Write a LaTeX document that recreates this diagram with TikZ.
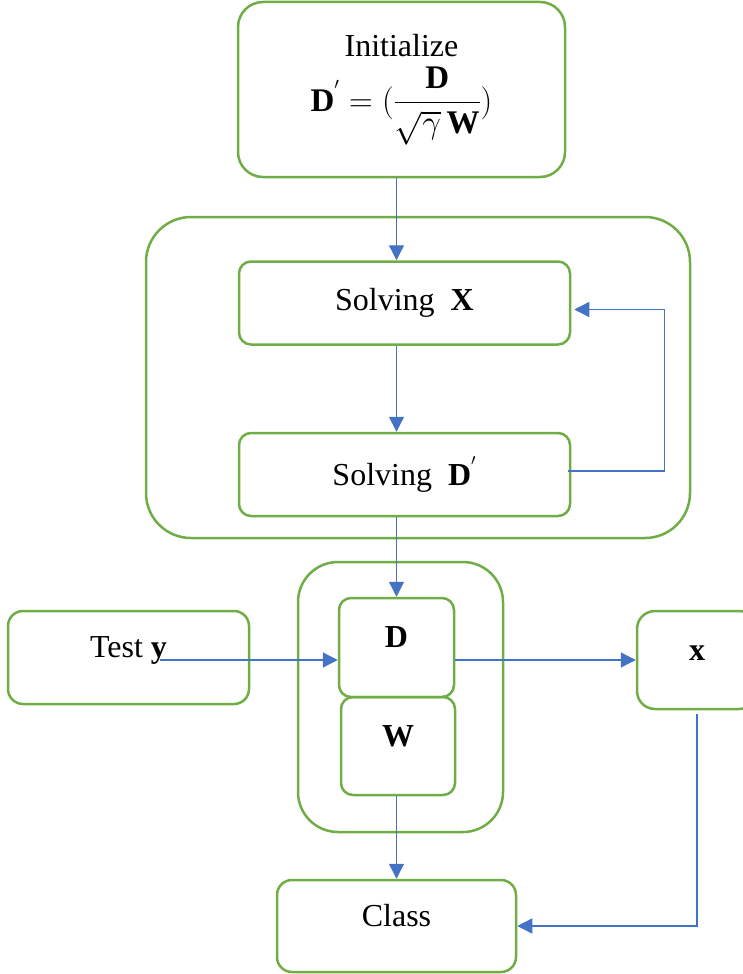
\RequirePackage{fix-cm}
\documentclass[tikz,border=0pt]{standalone}
\usepackage{amsmath}
\usepackage{fontspec}
\setmainfont{Liberation Serif}
\setmathrm{Liberation Serif}
\usepackage{tikz}
\usetikzlibrary{positioning, arrows.meta}
\usepackage{xcolor}

\definecolor{boxgreen}{HTML}{70AD47}
\definecolor{arrowblue}{HTML}{4472C4}

\begin{document}
\begin{tikzpicture}[
        x=1pt, y=-1pt,
        font=\fontsize{32}{38}\selectfont,
        block/.style={
            rectangle,
            draw=boxgreen,
            line width=2.5pt,
            rounded corners=12pt,
            align=center,
            inner sep=0pt
        },
        raised/.style={
            text height=22pt,
            text depth=22pt
        },
        arrow/.style={
            -{Triangle[length=15pt,width=15pt]},
            draw=arrowblue,
            line width=1.3pt
        }
    ]
        \useasboundingbox (0,0) rectangle (743,974);

        \node[block, minimum width=327pt, minimum height=175pt, rounded corners=25pt] (init) at (401.5,89.5)
            {Initialize\\[10pt] {\fontsize{33}{38}\selectfont $\displaystyle \mathbf{D}^{'}=(\frac{\mathbf{D}}{\sqrt{\gamma}\,\mathbf{W}})$}};
        \node[block, minimum width=544pt, minimum height=321pt, rounded corners=45pt] (loop) at (418,377.5) {};
        \node[block, minimum width=331pt, minimum height=83pt, below=82pt of init, xshift=3pt] (solveX) {Solving~~$\mathbf{X}$};
        \node[block, minimum width=331pt, minimum height=83pt, below=86pt of solveX] (solveD) {Solving~~$\mathbf{D}^{'}$};

        \node[block, minimum width=205pt, minimum height=270pt, rounded corners=40pt] (dict) at (400.5,697) {};
        \node[block, raised, minimum width=115pt, minimum height=99pt] (D) at (396.5,647.5) {$\mathbf{D}$};
        \node[block, raised, minimum width=114pt, minimum height=98pt] (W) at (398,746) {$\mathbf{W}$};
        \node[block, raised, minimum width=241pt, minimum height=93pt, rounded corners=15pt] (testy) at (128.5,657.5) {Test $\mathbf{y}$};
        \node[block, raised, minimum width=120pt, minimum height=98pt, rounded corners=18pt] (xres) at (697,660) {$\mathbf{x}$};
        \node[block, raised, minimum width=239pt, minimum height=92pt, rounded corners=15pt] (class) at (396.5,926) {Class};

        \coordinate (ytail) at (160,660);

        \draw[arrow] (D.north |- init.south) -- (D.north |- solveX.north);
        \draw[arrow] (D.north |- solveX.south) -- (D.north |- solveD.north);
        \draw[arrow] ([xshift=-3pt,yshift=3.5pt]solveD.east) -- ++(96,0) |- ([xshift=3pt,yshift=-6.5pt]solveX.east);
        \draw[arrow] (D.north |- solveD.south) -- (D.north);
        \draw[arrow] (ytail) -- (ytail -| D.west);
        \draw[arrow] (D.east |- ytail) -- (xres.west |- ytail);
        \draw[arrow] (class.north |- W.south) -- (class.north);
        \draw[arrow] ([yshift=-4pt]xres.south) |- (class.east);

    \end{tikzpicture}
\end{document}
